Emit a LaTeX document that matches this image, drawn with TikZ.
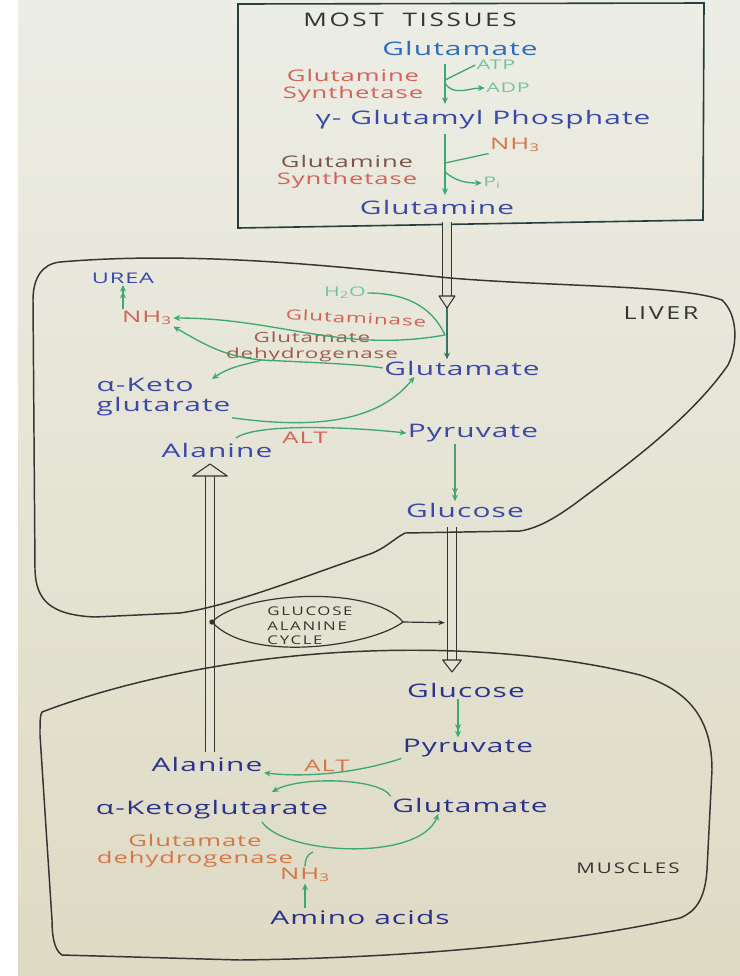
\documentclass[tikz,border=0pt]{standalone}
\usepackage{fontspec}
\setmainfont{Open Sans}
\newfontfamily\handfont[FakeStretch=1.6,LetterSpace=6]{Open Sans}
\newfontfamily\capsfont[FakeStretch=1.4,LetterSpace=14]{Open Sans}
\usepackage{tikz}
\usetikzlibrary{positioning,calc,arrows.meta}
\definecolor{papertop}{RGB}{236,237,229}
\definecolor{paperbot}{RGB}{222,218,196}
\definecolor{paperfill}{RGB}{229,228,212}
\definecolor{ink}{RGB}{52,52,50}
\definecolor{boxink}{RGB}{40,62,60}
\definecolor{blueink}{RGB}{58,72,170}
\definecolor{navyink}{RGB}{42,50,140}
\definecolor{redink}{RGB}{212,98,86}
\definecolor{brownink}{RGB}{125,85,72}
\definecolor{orangeink}{RGB}{212,118,70}
\definecolor{greenink}{RGB}{62,168,112}
\definecolor{darkgreen}{RGB}{52,118,100}
\definecolor{paleink}{RGB}{120,192,160}
\def\TubeGap{6pt}
\def\HeadLen{9pt}
% hollow transport arrow between two points
\newcommand{\tube}[3][7pt]{%
  \draw[ink, line width=0.8pt, double=paperfill, double distance=\TubeGap, shorten >=\HeadLen] (#2) -- (#3);
  \draw[ink, line width=0.8pt, fill=paperfill, line join=round]
    (#3) -- ($(#3)!\HeadLen!(#2)!#1!90:(#2)$) -- ($(#3)!\HeadLen!(#2)!#1!-90:(#2)$) -- cycle;}

\begin{document}
\begin{tikzpicture}[x=0.75pt,y=-0.75pt,
  hw/.style={font=\handfont\fontsize{#1}{#1}\selectfont\setlength\baselineskip{1.1em}, inner sep=1pt},
  met/.style={hw=14, text=blueink},
  enz/.style={hw=12, text=redink, align=center},
  tag/.style={font=\capsfont\fontsize{#1}{#1}\selectfont\setlength\baselineskip{1.2em}, text=ink, inner sep=1pt},
  tag/.default=11,
  cofactor/.style={hw=10, text=paleink},
  flux/.style={draw=greenink, line width=1pt, -{Stealth[length=5pt,width=4.5pt]}},
  twin/.style={flux, -{Stealth[length=5pt,width=4.5pt]Stealth[length=5pt,width=4.5pt]}},
  feed/.style={draw=greenink, line width=1pt},
  organ/.style={draw=ink, line width=1.1pt}]
\fill[white] (0,0) rectangle (740,976);
\shade[top color=papertop, bottom color=paperbot] (18,0) rectangle (740,976);
\useasboundingbox (0,0) rectangle (740,976);
% 
% most tissues
\draw[boxink, line width=1.2pt] (238,4) -- (704,3) -- (703,220) -- (238,228) -- cycle;
\node[tag=14] (mt) at (410,20) {MOST\ \ TISSUES};
\node[met, text=blueink!80!cyan] (glut) at (460,48) {Glutamate};
\node[cofactor] (atp) at (496,65) {ATP};
\node[cofactor] (adp) at (508,88) {ADP};
\node[enz] (gs1) at (353,86) {Glutamine\\Synthetase};
\node[met] (gp) at (483,120) {γ- Glutamyl Phosphate};
\node[enz, text=orangeink] (nh3t) at (515,145) {NH\textsubscript{3}};
\node[enz] (gs2) at (347,172) {\textcolor{brownink}{Glutamine}\\Synthetase};
\node[cofactor] (pi) at (492,183) {P\textsubscript{i}};
\node[met] (glnt) at (437,207) {Glutamine};
% 
\draw[flux] (445,64) -- (445,104);
\draw[feed] (atp.west) -- (445,80);
\draw[flux] (445,83) to[out=-60,in=180] (adp.west);
\draw[flux] (445,134) -- (445,195);
\draw[feed] (nh3t.south west) -- (445,163);
\draw[flux] (445,172) to[out=-40,in=180] (pi.west);
% 
% liver
\coordinate (boxout) at (447,222);
\coordinate (lin) at (447,308);
\node[met] (glul) at (462,368) {Glutamate};
\node[cofactor] (h2o) at (345,293) {H\textsubscript{2}O};
\node[enz, hw=10.5, rotate=-3] (gln) at (356,318) {Glutaminase};
\node[enz, hw=11] (urea) at (123,278) {\textcolor{blueink}{UREA}};
\node[enz] (nh3l) at (147,318) {NH\textsubscript{3}};
\node[enz, hw=10.5, text=brownink!60!redink] (gdhl) at (312,347) {Glutamate\\dehydrogenase};
\node[met, align=left, anchor=west] (akgl) at (95,397) {α-Keto\\glutarate};
\node[met] (alal) at (217,450) {Alanine};
\node[met] (pyrl) at (473,433) {Pyruvate};
\node[met] (glcl) at (465,510) {Glucose};
\node[enz] (altl) at (305,438) {ALT};
\node[tag=13.5] (liver) at (661,313) {LIVER};
% 
\coordinate (gsplit) at (445,335);
\coordinate (gdhfork) at (262,360);
\coordinate (akgltop) at (212,379);
\coordinate (alaltop) at (236,438);
\draw[flux, draw=darkgreen] (lin) -- (glul.north -| lin);
\draw[feed] (h2o.east) to[out=0,in=115] (gsplit);
\draw[flux] (gsplit) to[out=190,in=0] (nh3l.east);
\draw[twin] (nh3l.north -| urea) -- (urea.south);
\draw[flux] (glul.west) .. controls (360,364) and (300,362) .. (gdhfork) to[out=175,in=-30] (nh3l.south east);
\draw[flux] (gdhfork) to[out=195,in=35] (akgltop);
\draw[flux] (akgl.south east) .. controls (320,430) and (380,420) .. ($(glul.south west)!0.2!(glul.south east)$);
\draw[flux] (alaltop) .. controls (255,424) and (340,426) .. (pyrl.west);
\draw[twin] (pyrl.south -| 455,0) -- (glcl.north -| 455,0);
% 
% outlines
\coordinate (glcout) at (452,527);
\coordinate (glcin) at (452,672);
\coordinate (alaout) at (210,752);
\coordinate (alain) at (210,464);
\tube[6pt]{boxout}{lin}
\tube[13pt]{alaout}{alain}
\tube[7pt]{glcout}{glcin}
\draw[organ] (60,262) .. controls (200,250) and (350,268) .. (450,278)
  .. controls (560,287) and (680,285) .. (722,300)
  .. controls (738,315) and (738,345) .. (728,365)
  .. controls (690,420) and (620,470) .. (580,500)
  .. controls (560,515) and (540,528) .. (520,531)
  -- (405,533)
  .. controls (392,540) and (386,548) .. (370,554)
  .. controls (300,578) and (230,606) .. (180,613)
  -- (95,617)
  .. controls (50,615) and (36,600) .. (35,570)
  -- (33,300)
  .. controls (33,278) and (42,264) .. (60,262);
\draw[organ] (42,712) .. controls (100,690) and (200,662) .. (330,653)
  .. controls (450,645) and (560,655) .. (640,675)
  .. controls (690,690) and (712,720) .. (712,770)
  -- (707,870)
  .. controls (705,900) and (695,912) .. (680,918)
  .. controls (560,945) and (400,958) .. (240,960)
  -- (62,955)
  .. controls (54,950) and (52,935) .. (52,920)
  -- (40,735)
  .. controls (40,722) and (40,715) .. (42,712);
% 
% cycle label
\coordinate (lensL) at (212,622);
\coordinate (lensR) at (403,622);
\coordinate (lensT) at ($(glcout)!0.66!(glcin)$);
\node[tag=9, align=left] (cycle) at (310,626) {GLUCOSE\\ALANINE\\CYCLE};
\draw[ink, line width=0.9pt] (lensL) .. controls (240,592) and (372,584) .. (lensR)
  .. controls (372,646) and (250,664) .. (lensL);
\fill[ink] (lensL) circle (2pt);
\draw[ink, line width=0.9pt, -{Stealth[length=5pt]}] (lensR) -- (lensT -| 445,0);
% 
% muscles
\node[met, text=navyink] (glcm) at (466,690) {Glucose};
\node[met, text=navyink] (pyrm) at (468,748) {Pyruvate};
\node[met, text=navyink] (alam) at (207,764) {Alanine};
\node[enz, text=orangeink] (altm) at (327,766) {ALT};
\node[met, text=navyink] (glum) at (470,805) {Glutamate};
\node[met, text=navyink] (akgm) at (212,810) {α-Ketoglutarate};
\node[enz, text=orangeink] (gdhm) at (195,851) {Glutamate\\dehydrogenase};
\node[enz, text=orangeink] (nh3m) at (305,875) {NH\textsubscript{3}};
\node[met, text=navyink] (aa) at (360,917) {Amino acids};
\node[tag=11] (muscle) at (628,868) {MUSCLES};
% 
\coordinate (akgmin) at (272,792);
\coordinate (akgmout) at (262,822);
\coordinate (gdhmjoin) at (313,852);
\draw[twin] (glcm.south -| 458,0) -- (pyrm.north -| 458,0);
\draw[flux] (pyrm.south west) .. controls (360,772) and (310,778) .. (alam.south east);
\draw[flux] (glum.north west) .. controls (380,778) and (300,776) .. (akgmin);
\draw[flux] (akgmout) .. controls (285,855) and (420,862) .. ($(glum.south west)!0.3!(glum.south east)$);
\draw[feed] (nh3m.north) to[out=90,in=200] (gdhmjoin);
\draw[flux] (aa.north -| nh3m) -- (nh3m.south);
\end{tikzpicture}
\end{document}
